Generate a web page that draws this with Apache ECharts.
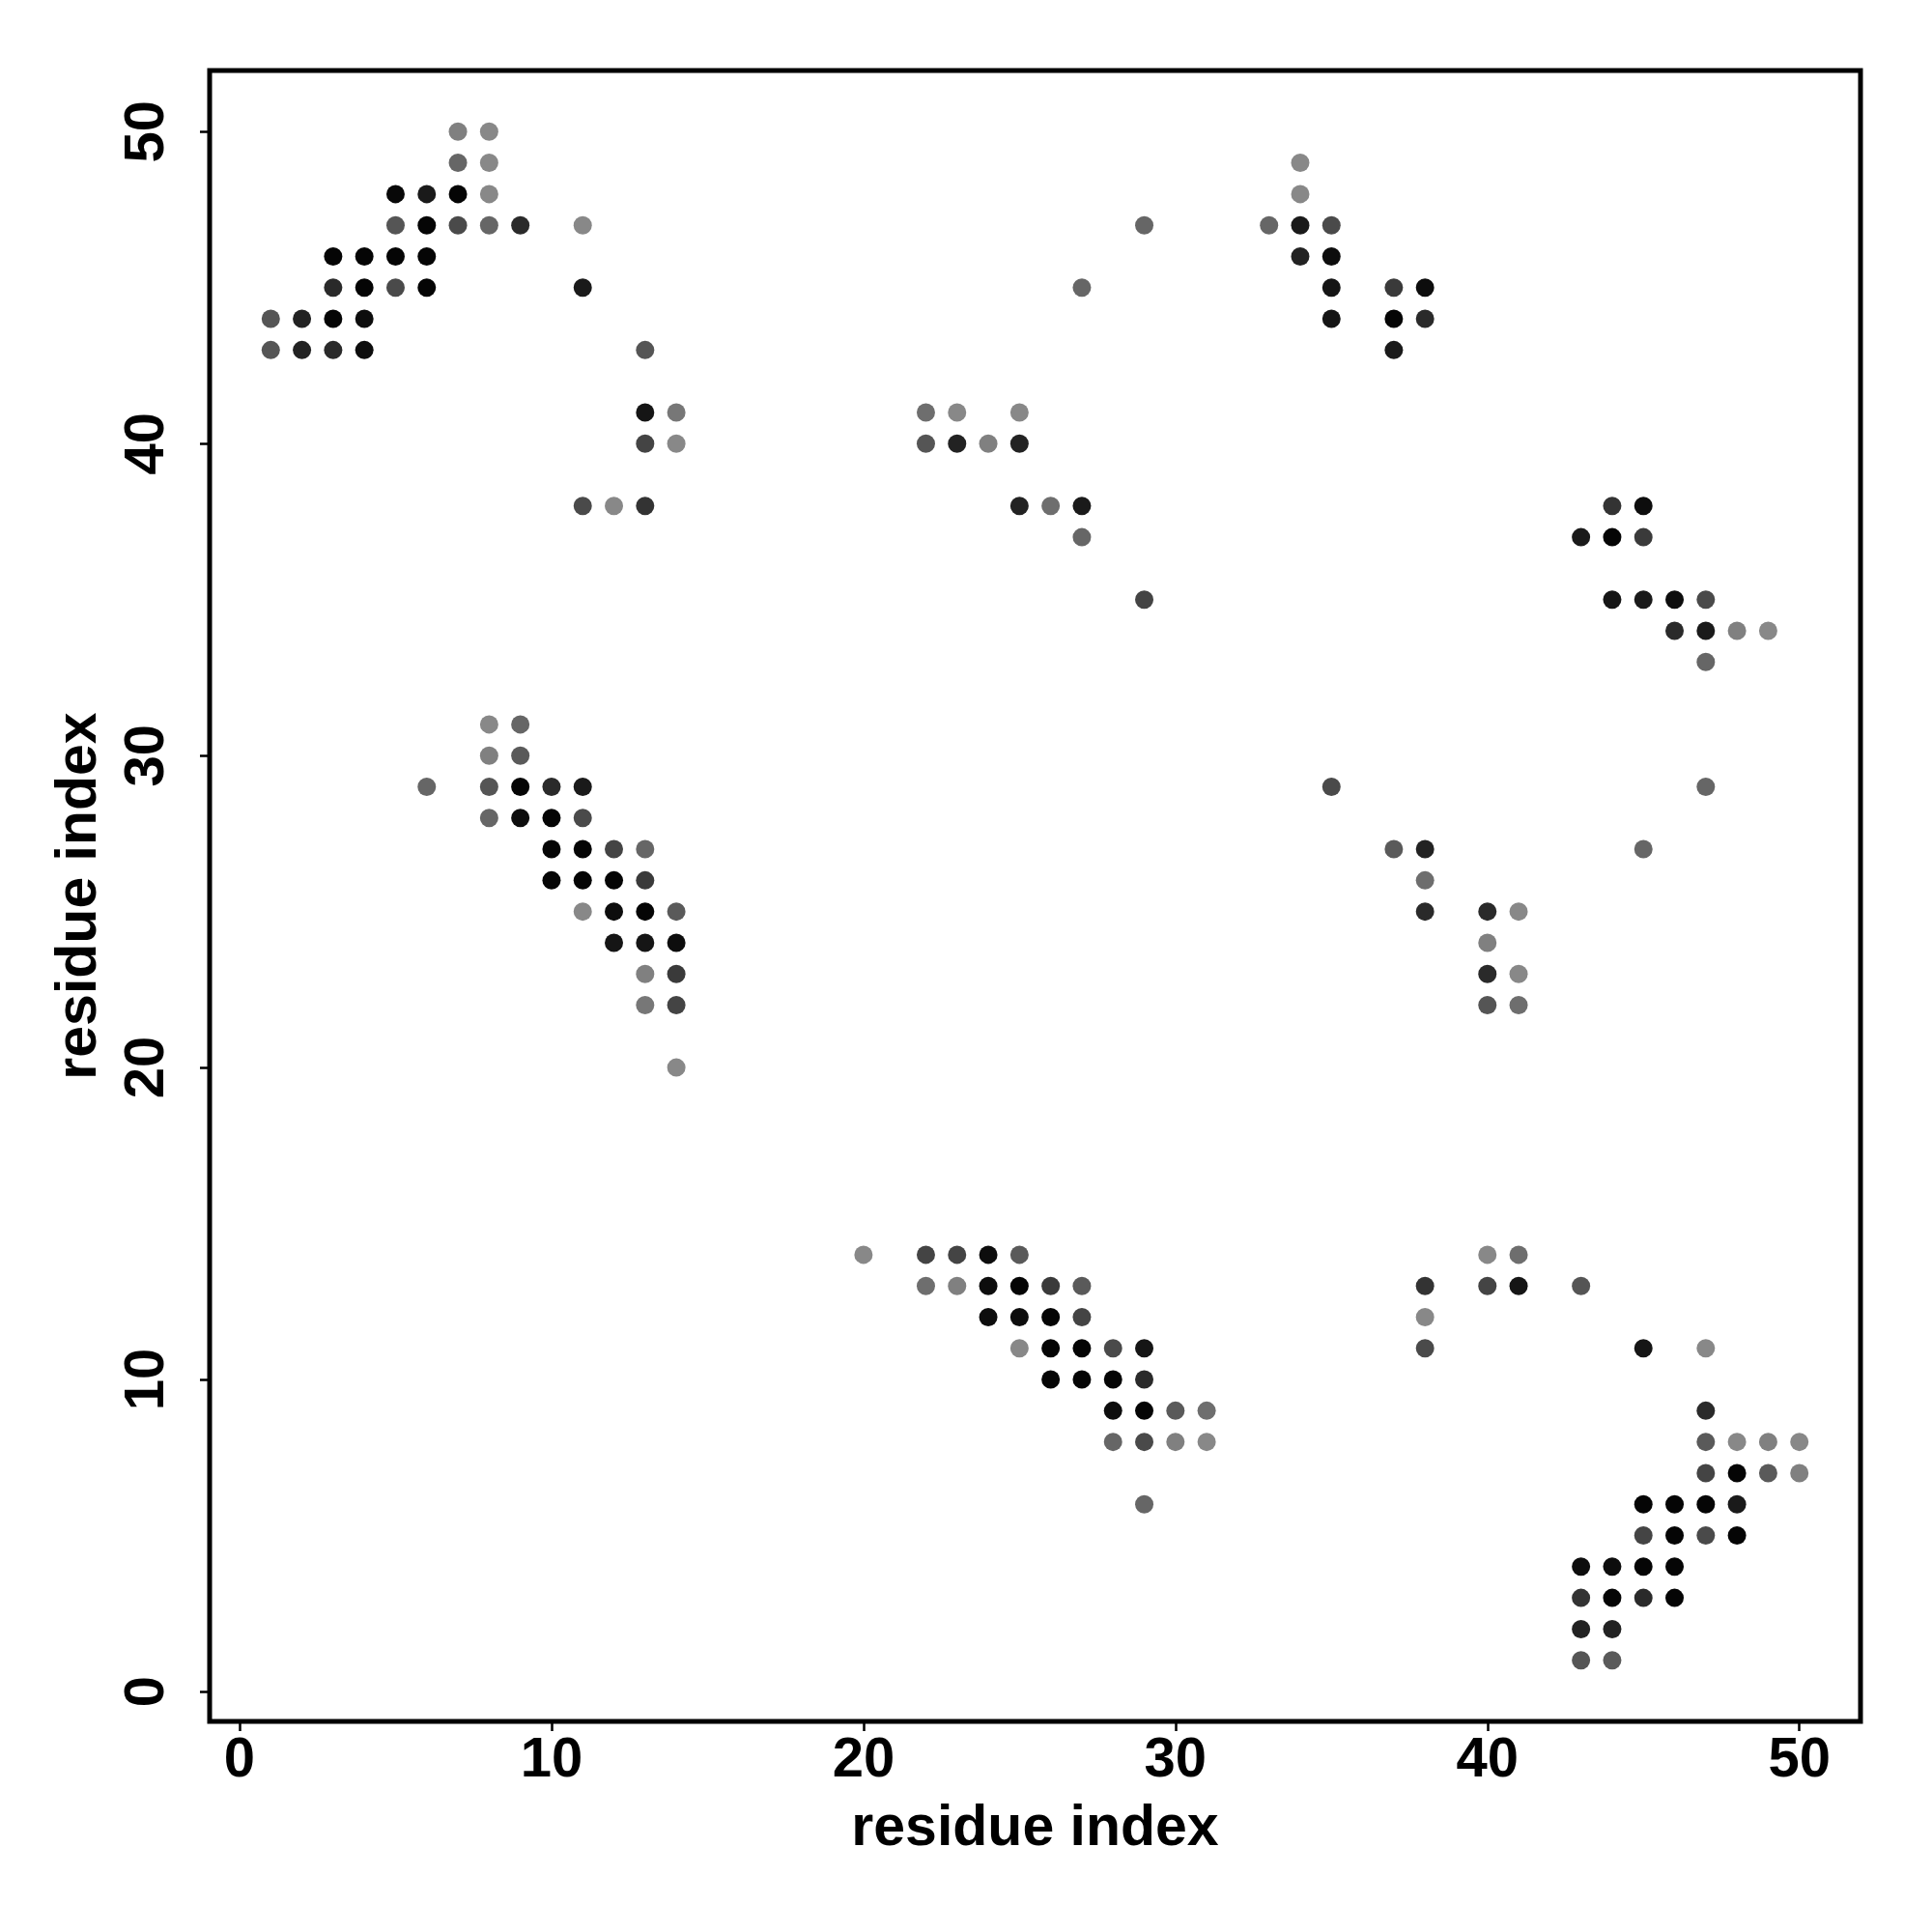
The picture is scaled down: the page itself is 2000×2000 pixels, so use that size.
<!DOCTYPE html>
<html><head><meta charset="utf-8">
<script src="https://cdn.jsdelivr.net/npm/echarts@6/dist/echarts.min.js"></script>
<style>html,body{margin:0;padding:0;background:#fff}#c{width:2000px;height:2000px}</style>
</head><body><div id="c"></div>
<script>
// residue i, residue j, gray shade (0 = black, 136 = light gray)
const resI = [
 7,8, 7,8, 5,6,7,8, 5,6,7,8,9,11, 3,4,5,6, 3,4,5,6,11, 1,2,3,4, 1,2,3,4,13, 13,14, 13,14, 11,12,13,
 8,9, 8,9, 6,8,9,10,11, 8,9,10,11, 10,11,12,13, 10,11,12,13, 11,12,13,14, 12,13,14, 13,14, 13,14, 14,
 29,27, 22,23,25, 22,23,24,25, 25,26,27, 27, 29,
 34,34, 33,34,35, 34,35, 35,37,38, 35,37,38, 37,
 44,45, 43,44,45, 44,45,46,47, 46,47,48,49, 47, 47,
 35, 37,38, 38, 38,40,41, 40, 40,41, 40,41, 45,
 20,22,23,24,25, 22,23,24,25,26,27, 24,25,26,27, 25,26,27,28,29, 26,27,28,29, 28,29,30,31, 28,29,30,31, 29,
 40,41, 38,40,41, 38, 38,
 43, 45,47, 47, 47,48,49,50, 47,48,49,50, 45,46,47,48, 45,46,47,48, 43,44,45,46, 43,44,45,46, 43,44, 43,44
];
const resJ = [
 50,50, 49,49, 48,48,48,48, 47,47,47,47,47,47, 46,46,46,46, 45,45,45,45,45, 44,44,44,44, 43,43,43,43,43, 41,41, 40,40, 38,38,38,
 31,31, 30,30, 29,29,29,29,29, 28,28,28,28, 27,27,27,27, 26,26,26,26, 25,25,25,25, 24,24,24, 23,23, 22,22, 20,
 47,45, 41,41,41, 40,40,40,40, 38,38,38, 37, 35,
 49,48, 47,47,47, 46,46, 45,45,45, 44,44,44, 43,
 38,38, 37,37,37, 35,35,35,35, 34,34,34,34, 33, 29,
 29, 27,27, 26, 25,25,25, 24, 23,23, 22,22, 27,
 14,14,14,14,14, 13,13,13,13,13,13, 12,12,12,12, 11,11,11,11,11, 10,10,10,10, 9,9,9,9, 8,8,8,8, 6,
 14,14, 13,13,13, 12, 11,
 13, 11,11, 9, 8,8,8,8, 7,7,7,7, 6,6,6,6, 5,5,5,5, 4,4,4,4, 3,3,3,3, 2,2, 1,1
];
const shade = [
 128,136, 102,136, 8,26,5,136, 85,5,74,102,42,136, 5,5,5,5, 42,5,74,5,26, 85,34,5,13, 85,34,42,13,85, 21,119, 68,136, 74,136,51,
 136,102, 128,90, 102,85,5,42,26, 102,13,5,74, 5,5,68,102, 5,5,5,58, 136,13,5,90, 21,21,13, 128,58, 119,68, 136,
 102,102, 110,136,136, 85,34,128,34, 34,110,26, 102, 68,
 136,136, 102,26,74, 34,13, 21,58,13, 21,5,42, 26,
 51,13, 26,5,58, 21,26,13,74, 42,26,128,136, 102, 102,
 74, 90,34, 110, 42,42,136, 128, 42,136, 85,110, 102,
 136,68,68,13,90, 110,128,13,5,58,90, 13,13,5,68, 136,5,5,74,21, 5,5,5,42, 13,5,90,110, 102,74,128,136, 102,
 136,110, 51,68,21, 136, 74,
 85, 21,136, 42, 90,136,128,136, 68,5,90,128, 5,5,5,26, 68,5,74,5, 13,13,5,5, 51,5,42,5, 34,34, 85,90
];
const tickVals = [0, 10, 20, 30, 40, 50];
const axisTitle = 'residue index';

const pts = resI.map((x, k) => [x, resJ[k], shade[k]]);
const FONT = 'Liberation Sans';

const chart = echarts.init(document.getElementById('c'), null, {renderer: 'canvas'});
chart.setOption({
  animation: false,
  backgroundColor: '#ffffff',
  grid: {left: 217, top: 73, width: 1709, height: 1709, show: true, borderColor: '#000', borderWidth: 5, backgroundColor: 'transparent'},
  xAxis: {
    type: 'value', min: -0.96, max: 51.96,
    name: axisTitle, nameLocation: 'middle', nameGap: 82,
    nameTextStyle: {fontFamily: FONT, fontWeight: 'bold', fontSize: 59, color: '#000'},
    axisLine: {show: false, onZero: false},
    axisTick: {show: true, length: 10, customValues: tickVals, lineStyle: {color: '#000', width: 2.5}},
    axisLabel: {customValues: tickVals, margin: 12, fontFamily: FONT, fontWeight: 'bold', fontSize: 58, color: '#000'},
    splitLine: {show: false}
  },
  yAxis: {
    type: 'value', min: -0.96, max: 51.96,
    name: axisTitle, nameLocation: 'middle', nameGap: 105, nameRotate: 90, nameMoveOverlap: false,
    nameTextStyle: {fontFamily: FONT, fontWeight: 'bold', fontSize: 59, color: '#000'},
    axisLine: {show: false, onZero: false},
    axisTick: {show: true, length: 10, customValues: tickVals, lineStyle: {color: '#000', width: 2.5}},
    axisLabel: {customValues: tickVals, rotate: 90, margin: 35, fontFamily: FONT, fontWeight: 'bold', fontSize: 58, color: '#000'},
    splitLine: {show: false}
  },
  series: [{
    type: 'scatter',
    data: pts,
    symbol: 'circle',
    symbolSize: 19,
    itemStyle: {
      opacity: 1,
      color: p => { const g = p.data[2]; return 'rgb(' + g + ',' + g + ',' + g + ')'; }
    }
  }]
});
</script></body></html>
